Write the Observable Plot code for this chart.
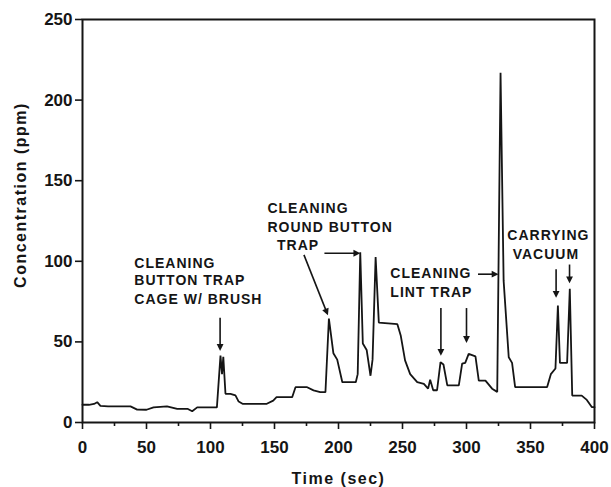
<!DOCTYPE html>
<html>
<head>
<meta charset="utf-8">
<script src="https://cdn.jsdelivr.net/npm/d3@7"></script>
<script src="https://cdn.jsdelivr.net/npm/@observablehq/plot@0.6"></script>
<style>
  html, body { margin: 0; padding: 0; background: #fff; }
  #chart svg { display: block; }
  #chart g[aria-label="text"] text { letter-spacing: 1px; }
  #chart g[aria-label="text"].axis-title text { letter-spacing: 1.5px; }
</style>
</head>
<body>
<div id="chart"></div>
<script>
// Concentration trace
const timeSec = [0, 5, 9, 11.5, 14, 20, 37.5, 42.7, 50, 55.5, 66, 74, 82, 85.7, 89.6, 105,
  107.8, 109, 110, 111.7, 115.6, 119.5, 122, 125, 144, 149, 151.6, 163.8, 166.4, 175.5, 180.5, 185.7, 189.8,
  192.5, 196, 199, 203, 213.5, 215, 217, 219, 222, 225, 226.6, 229, 231.5, 246, 248.6, 252, 256, 261.5, 266.7, 270, 271.6, 274, 277,
  279.7, 282, 285, 294, 296.6, 299, 301.7, 307, 309.6, 314.8, 320, 324, 326.6, 329, 333, 335.6, 338, 363, 365.9, 369.5,
  371.4, 373, 378.6, 380.7, 382.6, 390, 394, 398, 400];
const ppm = [11, 11, 11.5, 12.6, 10.3, 10, 10, 8, 7.9, 9.4, 10, 8.5, 8.5, 7, 9.4, 9.4,
  41.5, 30, 40.7, 17.8, 17.8, 16.8, 13, 11.6, 11.6, 13.6, 15.7, 15.7, 21.9, 21.9, 19.9, 18.8, 18.8,
  64.5, 43, 39, 25, 25, 30, 105.6, 49, 45, 29, 39, 102.6, 62, 61, 54, 38.5, 30, 25, 24, 21, 26.5, 20, 20,
  37.4, 36, 23, 23, 36.5, 37, 42.6, 41, 26, 26, 21, 19, 217, 88, 40.5, 37, 22, 22, 30, 33.5,
  72.6, 37, 37, 83, 16.7, 16.7, 14, 9.5, 9.5];

const xMajorTicks = [0, 50, 100, 150, 200, 250, 300, 350, 400];
const xMinorTicks = [25, 75, 125, 175, 225, 275, 325, 375];
const yTicks = [0, 50, 100, 150, 200, 250];

// Annotation text lines (data coordinates)
const leftText = ["CLEANING", "BUTTON TRAP", "CAGE W/ BRUSH",
  "CLEANING", "ROUND BUTTON", "TRAP",
  "CLEANING", "LINT TRAP"];
const leftTime = [40.5, 40.5, 40.5, 144.5, 144.5, 152, 240.5, 240.5];
const leftPpm = [98.5, 88, 76, 133, 121, 110, 92.4, 80.6];
const centerText = ["CARRYING", "VACUUM"];
const centerTime = [364, 362];
const centerPpm = [116, 104];

// Arrows: start and end (data coordinates)
const arrowT1 = [107.5, 173, 189, 309, 280, 300, 370, 380.5];
const arrowP1 = [65, 104, 105, 92, 71, 71, 95, 98];
const arrowT2 = [107.5, 191, 215, 323, 280, 300, 370, 380.5];
const arrowP2 = [46, 68, 105, 92, 43, 51, 79, 88];

const series = timeSec.map((t, i) => ({t, c: ppm[i]}));
const leftNotes = leftText.map((s, i) => ({s, t: leftTime[i], c: leftPpm[i]}));
const centerNotes = centerText.map((s, i) => ({s, t: centerTime[i], c: centerPpm[i]}));
const arrows = arrowT1.map((t1, i) => ({t1, p1: arrowP1[i], t2: arrowT2[i], p2: arrowP2[i]}));

const ink = "#151515";
const font = "'Liberation Sans', Arial, sans-serif";

const chart = Plot.plot({
  width: 611,
  height: 487,
  marginLeft: 82,
  marginRight: 17,
  marginTop: 19,
  marginBottom: 65,
  x: {domain: [0, 400]},
  y: {domain: [0, 250]},
  style: {fontFamily: font, background: "#fff", color: ink},
  marks: [
    Plot.frame({stroke: ink, strokeWidth: 2}),
    Plot.axisX({ticks: xMinorTicks, tickSize: 4, tickFormat: () => "", stroke: ink, strokeWidth: 1.6, label: null}),
    Plot.axisX({ticks: xMajorTicks, tickSize: 7, tickPadding: 11, stroke: ink, strokeWidth: 1.6,
      fontSize: 17, fontWeight: "bold", label: null}),
    Plot.axisY({ticks: yTicks, tickSize: 7, tickPadding: 3, stroke: ink, strokeWidth: 1.6,
      fontSize: 17, fontWeight: "bold", label: null}),
    Plot.text(["Time (sec)"], {frameAnchor: "bottom", lineAnchor: "middle", dy: 56, fontSize: 16,
      fontWeight: "bold", fill: ink, className: "axis-title"}),
    Plot.text(["Concentration (ppm)"], {frameAnchor: "left", textAnchor: "middle", dx: -62, dy: -26, rotate: -90,
      fontSize: 16, fontWeight: "bold", fill: ink, className: "axis-title"}),
    Plot.line(series, {x: "t", y: "c", stroke: ink, strokeWidth: 1.8, strokeLinejoin: "miter"}),
    Plot.link(arrows, {x1: "t1", y1: "p1", x2: "t2", y2: "p2", stroke: ink, strokeWidth: 1.6, markerEnd: "arrow"}),
    Plot.text(leftNotes, {x: "t", y: "c", text: "s", textAnchor: "start", fontSize: 14, fontWeight: "bold", fill: ink}),
    Plot.text(centerNotes, {x: "t", y: "c", text: "s", textAnchor: "middle", fontSize: 14, fontWeight: "bold", fill: ink})
  ]
});
// filled arrowheads like the reference
chart.querySelectorAll("marker path").forEach(p => {
  p.setAttribute("d", "M-4,-3.2L2.5,0L-4,3.2Z");
  p.setAttribute("fill", ink);
  p.setAttribute("stroke", "none");
});
document.getElementById("chart").append(chart);
</script>
</body>
</html>
